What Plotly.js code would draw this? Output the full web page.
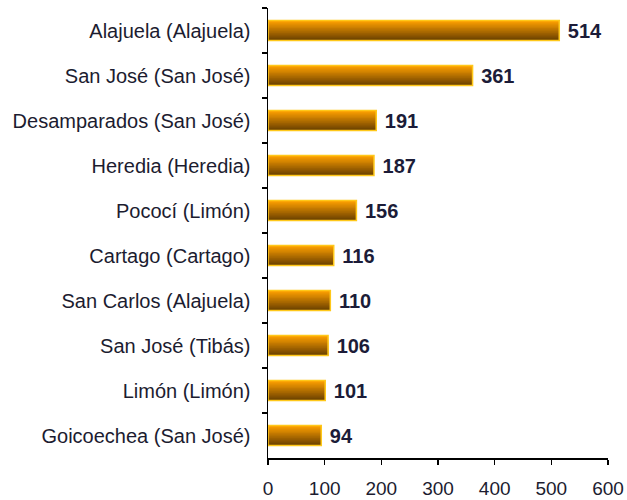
<!DOCTYPE html>
<html>
<head>
<meta charset="utf-8">
<script src="https://cdn.plot.ly/plotly-3.0.1.min.js"></script>
<style>html,body{margin:0;padding:0;background:#fff;}#chart{width:627px;height:500px;}</style>
</head>
<body>
<div id="chart"></div>
<script>
const categories = ["Alajuela (Alajuela)", "San José (San José)", "Desamparados (San José)", "Heredia (Heredia)", "Pococí (Limón)", "Cartago (Cartago)", "San Carlos (Alajuela)", "San José (Tibás)", "Limón (Limón)", "Goicoechea (San José)"];
const values = [514, 361, 191, 187, 156, 116, 110, 106, 101, 94];
const xTicks = [0, 100, 200, 300, 400, 500, 600];

const barWidth = 0.44;
const nBands = 24;
const topColor = [255, 160, 0];
const bottomColor = [105, 64, 0];
const traces = [];
const bw = barWidth / nBands;
for (let i = 0; i < nBands; i++) {
  const t = i / (nBands - 1);
  const c = topColor.map((v, k) => Math.round(v + (bottomColor[k] - v) * t));
  traces.push({
    type: 'bar', orientation: 'h',
    y: categories, x: values,
    width: barWidth - i * bw,
    offset: -barWidth / 2 + i * bw,
    marker: {color: 'rgb(' + c.join(',') + ')', line: {width: 0}},
    hoverinfo: 'skip', showlegend: false
  });
}
traces.push({
  type: 'bar', orientation: 'h',
  y: categories, x: values,
  width: barWidth, offset: -barWidth / 2,
  marker: {color: 'rgba(0,0,0,0)', line: {color: '#ffc81a', width: 1.5}},
  text: values.map(String), texttemplate: ' %{text}', textposition: 'outside', cliponaxis: false,
  constraintext: 'none',
  textfont: {family: 'Liberation Sans', size: 20, color: '#1c1c38', weight: 'bold'},
  showlegend: false
});

const layout = {
  width: 627, height: 500,
  margin: {l: 268, r: 19, t: 8, b: 42},
  paper_bgcolor: '#fff', plot_bgcolor: '#fff',
  barmode: 'overlay',
  font: {family: 'Liberation Sans', color: '#1c1c30', size: 20},
  xaxis: {
    range: [0, 600], tickvals: xTicks, ticktext: xTicks.map(String),
    showgrid: false, zeroline: false, showline: true, linecolor: '#000', linewidth: 1.5,
    ticks: 'outside', ticklen: 5, tickcolor: '#000', tickwidth: 1.5,
    ticklabelstandoff: 8, tickfont: {size: 19, family: 'Liberation Sans'}
  },
  yaxis: {
    type: 'category', autorange: 'reversed',
    showgrid: false, zeroline: false, showline: true, linecolor: '#000', linewidth: 1.5,
    ticks: 'outside', ticklen: 5, tickcolor: '#000', tickwidth: 1.5, tickson: 'boundaries',
    ticklabelstandoff: 12, tickfont: {size: 20, family: 'Liberation Sans'}
  }
};
Plotly.newPlot('chart', traces, layout, {displayModeBar: false, staticPlot: true});
</script>
</body>
</html>
